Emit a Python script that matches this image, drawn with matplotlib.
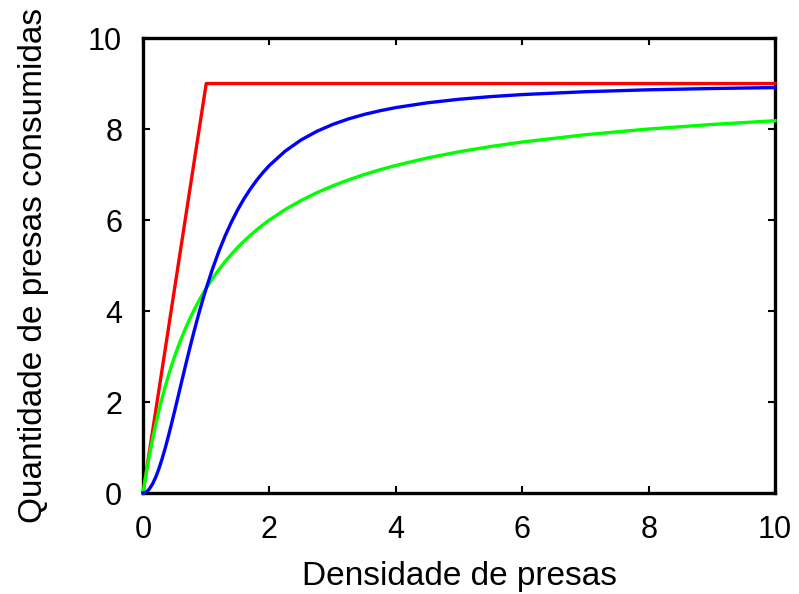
import matplotlib
matplotlib.use('Agg')
import matplotlib.pyplot as plt

plt.rcParams['font.family'] = ['Liberation Sans', 'DejaVu Sans']

# resposta funcional tipo I (vermelho)
x_tipo1 = [0, 1, 10]
y_tipo1 = [0, 9, 9]

# tipos II (verde) e III (azul)
x_curvas = [0, 0.025, 0.05, 0.075, 0.1, 0.15, 0.2, 0.25, 0.3, 0.35, 0.4,
            0.45, 0.5, 0.55, 0.6, 0.65, 0.7, 0.75, 0.8, 0.85, 0.9, 0.95,
            1.0, 1.1, 1.2, 1.3, 1.4, 1.5, 1.6, 1.7, 1.8, 1.9, 2.0, 2.25,
            2.5, 2.75, 3.0, 3.25, 3.5, 3.75, 4.0, 4.5, 5.0, 5.5, 6.0, 7.0,
            8.0, 9.0, 10.0]
y_tipo2 = [0, 0.22, 0.429, 0.628, 0.818, 1.174, 1.5, 1.8, 2.077, 2.333,
           2.571, 2.793, 3.0, 3.194, 3.375, 3.545, 3.706, 3.857, 4.0, 4.135,
           4.263, 4.385, 4.5, 4.714, 4.909, 5.087, 5.25, 5.4, 5.538, 5.667,
           5.786, 5.897, 6.0, 6.231, 6.429, 6.6, 6.75, 6.882, 7.0, 7.105,
           7.2, 7.364, 7.5, 7.615, 7.714, 7.875, 8.0, 8.1, 8.182]
y_tipo3 = [0, 0.006, 0.022, 0.05, 0.089, 0.198, 0.346, 0.529, 0.743, 0.982,
           1.241, 1.516, 1.8, 2.09, 2.382, 2.673, 2.96, 3.24, 3.512, 3.775,
           4.028, 4.269, 4.5, 4.928, 5.311, 5.654, 5.959, 6.231, 6.472,
           6.686, 6.877, 7.048, 7.2, 7.515, 7.759, 7.949, 8.1, 8.222, 8.321,
           8.402, 8.471, 8.576, 8.654, 8.712, 8.757, 8.82, 8.862, 8.89, 8.911]

ticks = [0, 2, 4, 6, 8, 10]

fig = plt.figure(figsize=(7.99, 5.94), dpi=100)
ax = fig.add_axes([0.179, 0.170, 0.791, 0.766])

ax.plot(x_tipo1, y_tipo1, color='#ff0000', lw=2.4, clip_on=False, zorder=3)
ax.plot(x_curvas, y_tipo2, color='#00ff00', lw=2.4, clip_on=False, zorder=3)
ax.plot(x_curvas, y_tipo3, color='#0000ff', lw=2.4, clip_on=False, zorder=3)

ax.set_xlim(0, 10)
ax.set_ylim(0, 10)
ax.set_xticks(ticks)
ax.set_yticks(ticks)
ax.tick_params(direction='in', top=True, right=True, length=5, width=1.5,
               labelsize=22)
ax.tick_params(axis='x', pad=16)
ax.tick_params(axis='y', pad=15)
for s in ax.spines.values():
    s.set_linewidth(2.4)

ax.set_xlabel('Densidade de presas', fontsize=24, labelpad=11)
ax.set_ylabel('Quantidade de presas consumidas', fontsize=24, labelpad=28)

fig.savefig('out.png', dpi=100)
